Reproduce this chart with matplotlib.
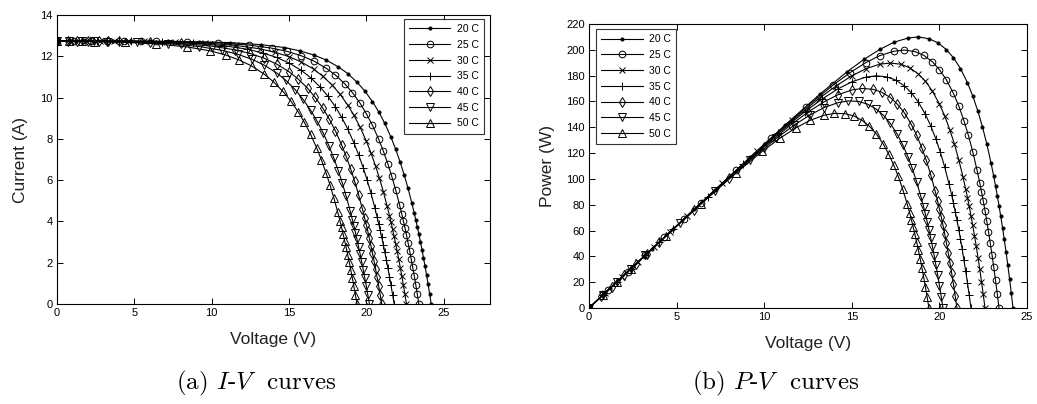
import matplotlib
matplotlib.use("Agg")
import matplotlib.pyplot as plt

plt.rcParams['font.family'] = ['Liberation Sans', 'DejaVu Sans']
plt.rcParams['mathtext.fontset'] = 'cm'

# module I-V readings per cell temperature
temps = ["20 C", "25 C", "30 C", "35 C", "40 C", "45 C", "50 C"]

v_20 = [0, 1.2, 2.4, 3.6, 4.8, 6.0, 7.2, 9.2, 11.2, 13.2, 14.7, 15.7, 16.6, 17.4, 18.2, 18.8, 19.4,
        19.9, 20.4, 20.8, 21.2, 21.6, 21.9, 22.2, 22.45, 22.7, 22.95,
        23.1, 23.2, 23.3, 23.4, 23.5, 23.6, 23.7, 23.8, 23.9, 24.0, 24.1, 24.2]
i_20 = [12.75, 12.75, 12.75, 12.74, 12.74, 12.74, 12.73, 12.71, 12.67, 12.57, 12.43, 12.27, 12.07, 11.83,
        11.49, 11.17, 10.75, 10.33, 9.81, 9.32, 8.75, 8.08, 7.50, 6.86, 6.26, 5.61, 4.88,
        4.41, 4.08, 3.74, 3.39, 3.02, 2.64, 2.24, 1.83, 1.40, 0.95, 0.48, 0]

v_25 = [0, 1.1, 2.2, 3.2, 4.3, 5.4, 6.4, 8.4, 10.4, 12.4, 13.9, 14.9, 15.8, 16.6, 17.4, 18.0, 18.6,
        19.1, 19.6, 20.0, 20.4, 20.8, 21.1, 21.4, 21.65, 21.9, 22.15,
        22.3, 22.4, 22.5, 22.6, 22.7, 22.8, 22.9, 23.0, 23.1, 23.2, 23.3, 23.4]
i_25 = [12.75, 12.75, 12.75, 12.74, 12.74, 12.74, 12.73, 12.70, 12.66, 12.55, 12.40, 12.24, 12.03, 11.78,
        11.43, 11.10, 10.68, 10.25, 9.73, 9.23, 8.66, 7.99, 7.42, 6.78, 6.18, 5.53, 4.81,
        4.35, 4.02, 3.69, 3.34, 2.97, 2.59, 2.20, 1.79, 1.37, 0.93, 0.47, 0]

v_30 = [0, 0.9, 1.9, 2.8, 3.7, 4.6, 5.6, 7.6, 9.6, 11.6, 13.1, 14.1, 15.0, 15.8, 16.6, 17.2, 17.8,
        18.3, 18.8, 19.2, 19.6, 20.0, 20.3, 20.6, 20.85, 21.1, 21.35,
        21.5, 21.6, 21.7, 21.8, 21.9, 22.0, 22.1, 22.2, 22.3, 22.4, 22.5, 22.6]
i_30 = [12.75, 12.75, 12.75, 12.74, 12.74, 12.74, 12.73, 12.70, 12.65, 12.53, 12.37, 12.20, 11.99, 11.73,
        11.38, 11.03, 10.61, 10.17, 9.64, 9.15, 8.57, 7.90, 7.33, 6.69, 6.10, 5.45, 4.74,
        4.28, 3.96, 3.63, 3.28, 2.92, 2.55, 2.17, 1.76, 1.35, 0.91, 0.47, 0]

v_35 = [0, 0.8, 1.6, 2.4, 3.2, 4.0, 4.8, 6.8, 8.8, 10.8, 12.3, 13.3, 14.2, 15.0, 15.8, 16.4, 17.0,
        17.5, 18.0, 18.4, 18.8, 19.2, 19.5, 19.8, 20.05, 20.3, 20.55,
        20.7, 20.8, 20.9, 21.0, 21.1, 21.2, 21.3, 21.4, 21.5, 21.6, 21.7, 21.8]
i_35 = [12.75, 12.75, 12.75, 12.74, 12.74, 12.74, 12.73, 12.69, 12.64, 12.52, 12.35, 12.17, 11.95, 11.68,
        11.32, 10.97, 10.53, 10.09, 9.56, 9.06, 8.48, 7.81, 7.24, 6.61, 6.02, 5.38, 4.67,
        4.22, 3.90, 3.57, 3.23, 2.88, 2.51, 2.13, 1.73, 1.32, 0.90, 0.46, 0]

v_40 = [0, 0.7, 1.3, 2.0, 2.7, 3.3, 4.0, 6.0, 8.0, 10.0, 11.5, 12.5, 13.4, 14.2, 15.0, 15.6, 16.2,
        16.7, 17.2, 17.6, 18.0, 18.4, 18.7, 19.0, 19.25, 19.5, 19.75,
        19.9, 20.0, 20.1, 20.2, 20.3, 20.4, 20.5, 20.6, 20.7, 20.8, 20.9, 21.0]
i_40 = [12.75, 12.75, 12.75, 12.74, 12.74, 12.74, 12.73, 12.69, 12.63, 12.50, 12.32, 12.14, 11.91, 11.63,
        11.26, 10.90, 10.46, 10.01, 9.48, 8.97, 8.40, 7.72, 7.16, 6.52, 5.94, 5.30, 4.60,
        4.15, 3.84, 3.52, 3.18, 2.83, 2.47, 2.09, 1.70, 1.30, 0.88, 0.45, 0]

v_45 = [0, 0.8, 1.6, 2.4, 3.2, 5.2, 7.2, 9.2, 10.7, 11.7, 12.6, 13.4, 14.2, 14.8, 15.4, 15.9, 16.4,
        16.8, 17.2, 17.6, 17.9, 18.2, 18.45, 18.7, 18.95,
        19.1, 19.2, 19.3, 19.4, 19.5, 19.6, 19.7, 19.8, 19.9, 20.0, 20.1, 20.2]
i_45 = [12.75, 12.75, 12.74, 12.74, 12.72, 12.68, 12.62, 12.48, 12.29, 12.10, 11.86, 11.58, 11.20, 10.84,
        10.39, 9.93, 9.39, 8.89, 8.31, 7.64, 7.07, 6.44, 5.86, 5.22, 4.53,
        4.09, 3.78, 3.46, 3.13, 2.78, 2.43, 2.06, 1.67, 1.28, 0.87, 0.44, 0]

v_50 = [0, 0.8, 1.6, 2.4, 4.4, 6.4, 8.4, 9.9, 10.9, 11.8, 12.6, 13.4, 14.0, 14.6, 15.1, 15.6, 16.0,
        16.4, 16.8, 17.1, 17.4, 17.65, 17.9, 18.15,
        18.3, 18.4, 18.5, 18.6, 18.7, 18.8, 18.9, 19.0, 19.1, 19.2, 19.3, 19.4]
i_50 = [12.75, 12.74, 12.74, 12.71, 12.68, 12.61, 12.46, 12.27, 12.07, 11.82, 11.53, 11.14, 10.77, 10.31,
        9.86, 9.31, 8.80, 8.22, 7.55, 6.98, 6.35, 5.78, 5.15, 4.46,
        4.03, 3.72, 3.40, 3.07, 2.74, 2.38, 2.02, 1.64, 1.25, 0.85, 0.43, 0]

voltages = [v_20, v_25, v_30, v_35, v_40, v_45, v_50]
currents = [i_20, i_25, i_30, i_35, i_40, i_45, i_50]

# marker styles used for each temperature
styles = [
    dict(marker='.', ms=4.5, mfc='k'),
    dict(marker='o', ms=4.8, mfc='none'),
    dict(marker='x', ms=4, mfc='none'),
    dict(marker='+', ms=6, mfc='none'),
    dict(marker='d', ms=4.8, mfc='none'),
    dict(marker='v', ms=5.2, mfc='none'),
    dict(marker='^', ms=5.2, mfc='none'),
]

fig = plt.figure(figsize=(10.37, 4.04), dpi=100)
ax1 = fig.add_axes([0.055, 0.2475, 0.4175, 0.715])
ax2 = fig.add_axes([0.568, 0.2376, 0.4224, 0.703])

for v, i, lab, st in zip(voltages, currents, temps, styles):
    p = [a * b for a, b in zip(v, i)]
    ax1.plot(v, i, color='k', lw=0.8, mec='k', mew=0.7, label=lab, **st)
    ax2.plot(v, p, color='k', lw=0.8, mec='k', mew=0.7, label=lab, **st)

ax1.set_xlim(0, 28)
ax1.set_ylim(0, 14)
ax1.set_xticks([0, 5, 10, 15, 20, 25])
ax1.set_yticks(range(0, 15, 2))
ax1.set_xlabel('Voltage (V)', fontsize=12.5, color='#222222', labelpad=10)
ax1.set_ylabel('Current (A)', fontsize=12.5, color='#222222', labelpad=9)

ax2.set_xlim(0, 25)
ax2.set_ylim(0, 220)
ax2.set_xticks([0, 5, 10, 15, 20, 25])
ax2.set_yticks(range(0, 221, 20))
ax2.set_xlabel('Voltage (V)', fontsize=12.5, color='#222222', labelpad=10)
ax2.set_ylabel('Power (W)', fontsize=12.5, color='#222222', labelpad=8)

for ax in (ax1, ax2):
    ax.tick_params(direction='in', top=True, right=True, length=4, width=0.7,
                   labelsize=8, pad=3)
    for s in ax.spines.values():
        s.set_linewidth(0.8)

leg_kw = dict(fontsize=7.5, frameon=True, fancybox=False, edgecolor='k',
              handlelength=4.0, borderpad=0.5, labelspacing=0.55, handletextpad=0.6)
l1 = ax1.legend(loc='upper right', bbox_to_anchor=(0.998, 1.005), **leg_kw)
l2 = ax2.legend(loc='upper left', bbox_to_anchor=(0.004, 1.0), **leg_kw)
for l in (l1, l2):
    l.get_frame().set_linewidth(0.8)

fig.text(0.247, 0.052, r'(a) $I$-$V$  curves', fontsize=18, family='cmr10', ha='center', va='center')
fig.text(0.748, 0.052, r'(b) $P$-$V$  curves', fontsize=18, family='cmr10', ha='center', va='center')

fig.savefig('out.png', dpi=100)
